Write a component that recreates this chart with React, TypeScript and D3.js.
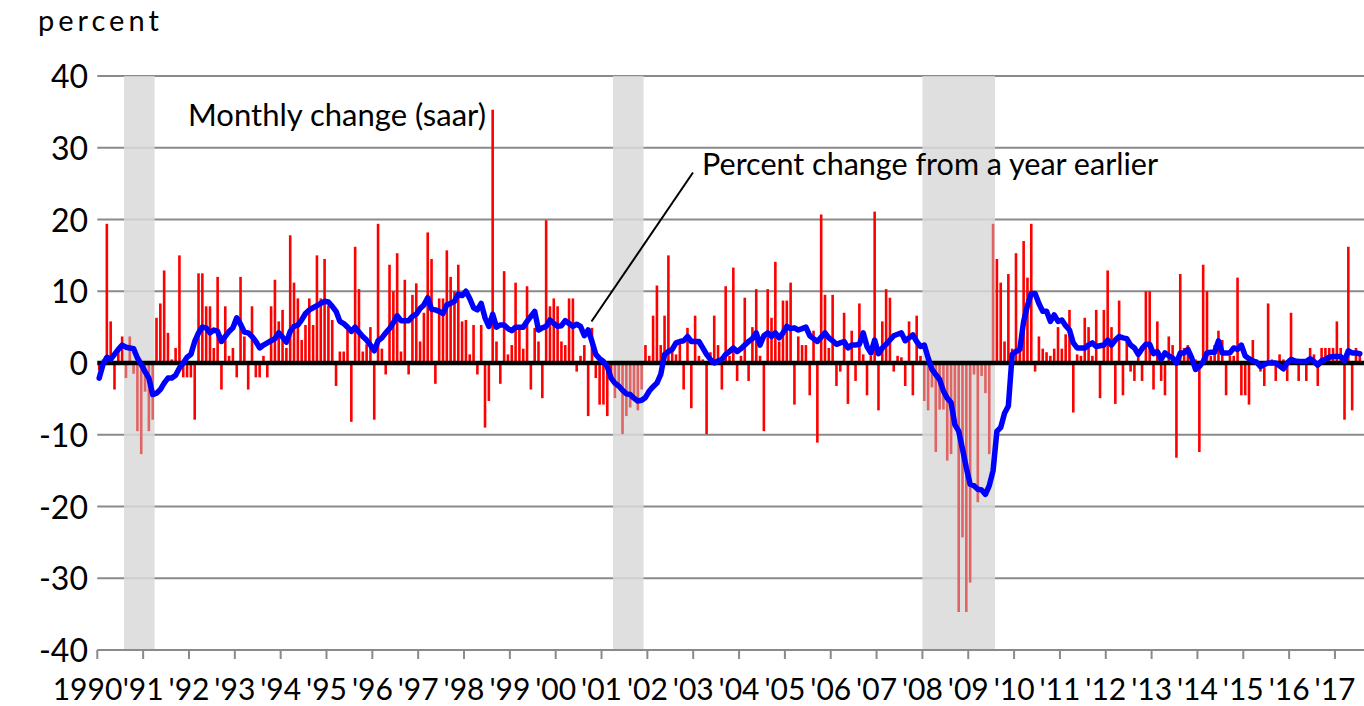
import React from 'react';
import * as d3 from 'd3';

// monthly change, saar (Jan 1990 - Jul 2017), one row per year
const monthlyChange = [
  -1, 0.5, 19.4, 5.8, -3.7, 2.1, 3.7, -2.1, 3.7, -1.5, -9.5, -12.7, // 1990
  -4, -9.5, -7.9, 6.3, 8.3, 12.9, 4.2, 0.5, 2.1, 15, -2, -2, // 1991
  -2, -7.9, 12.5, 12.5, 7.9, 7.9, 2.1, 12, -3.7, 7.9, 1, 2.1, // 1992
  -2, 12, 3.7, -3.7, 7.9, -2, -2, 1, -2, 7.9, 11.6, 5.8, // 1993
  7.4, 2.1, 17.8, 11.2, 9, 3.2, 5.3, 9, 5.3, 15, 9, 14.5, // 1994
  8, 6, -3.2, 1.6, 1.6, 5.3, -8.2, 16.2, 10.3, 1.6, 2.6, 5.0, // 1995
  -7.9, 19.4, 2, -1.6, 13.7, 10, 15.3, 1.6, 11.6, -1.6, 9.5, 11.1, // 1996
  3, 7, 18.2, 14.5, -2.9, 9, 9, 15.7, 12, 10, 13.7, 5.8, // 1997
  6, 1.2, 5.3, -1.6, 5.3, -9.0, -5.3, 35.3, 3, -2.9, 12.8, 1.2, // 1998
  2.5, 11.2, 4.9, 2, 10.7, -3.7, 4.9, 3, -4.9, 19.9, 7.9, 9, // 1999
  7.9, 3, 2.5, 9, 9, -1.2, 1, 2.5, -7.4, 4.9, -2.1, -5.8, // 2000
  -5.8, -7.4, -2, -4.9, -3, -9.9, -7.4, -6.2, -4.9, -6.6, -3.7, 2.5, // 2001
  1, 6.6, 10.8, 2.5, 6.6, 15, 2, 1.2, 3, -3.7, 4.9, -6.3, // 2002
  6.6, 1, 0.5, -9.9, 1.5, 6.6, 2.5, -3.7, 10.7, 1, 13.3, -2.5, // 2003
  1, 9.1, -2.5, 5, 10.3, 1, -9.5, 10.3, 6.3, 14.1, 3, 8.7, // 2004
  8.7, 11.2, -5.8, 3.7, 2.5, 2.5, -4.5, 4.5, -11.1, 20.7, 9.5, 2.1, // 2005
  9.5, -3.2, -1.2, 7.0, -5.7, 4.5, -2.5, 8.3, 1.2, -4.5, 1, 21.1, // 2006
  -6.6, 5.8, 10.3, 9.1, -1.2, 1, 0.8, -3.2, 5.8, -4.5, 6.6, 1, // 2007
  -5.3, -6.6, -3.4, -12.4, -6.5, -6.5, -13.6, -12.7, -9, -34.7, -24.3, -34.7, // 2008
  -30.6, -1.6, -19.4, -1.8, -4.2, -12.7, 19.4, 14.5, 11.2, 3, 12.4, 2, // 2009
  15.3, 2.5, 17, 11.9, 19.4, -1.2, 3.7, 2, 1.5, 1, 2, 5, // 2010
  2, 4, 7.4, -6.9, 1.2, 1, 6.3, 5.0, 1, 7.4, -4.9, 7.4, // 2011
  12.9, 5, -5.7, 8.7, -4.5, 3.7, -1.2, -2.5, 1, -2.5, 10, 10, // 2012
  -3.7, 5.8, -2.5, -4.5, 3.7, 2.5, -13.2, 12.4, 2.1, 2.5, 1, 0.5, // 2013
  -12.4, 13.7, 10, 1, 2.5, 4.5, 3.2, -4.5, 1, 1, 11.9, -4.5, // 2014
  -4.5, -5.8, 3.2, 0.5, -1.2, -3.2, 8.3, 0.5, -2.5, 1.2, 0.5, -2.5, // 2015
  7.0, 0.5, -2.5, 0.5, -2.5, 2.1, 1.2, -3.2, 2.1, 2.1, 2.1, 2.1, // 2016
  5.8, 2.1, -7.9, 16.2, -6.6, 2.1, 1, // 2017
];

// percent change from a year earlier
const yearlyChange = [
  -2.1, -0.2, 0.8, 0.5, 1.2, 1.9, 2.5, 2.2, 2.1, 2.0, 0.7, -0.2, // 1990
  -1.2, -2.1, -4.4, -4.2, -3.7, -2.8, -2.1, -2.1, -1.7, -0.7, 0, 0.8, // 1991
  1.2, 3.0, 4.2, 5.0, 4.9, 4.2, 4.6, 4.4, 3.0, 3.7, 4.4, 4.9, // 1992
  6.3, 5.4, 4.3, 4.2, 3.7, 3.0, 2.1, 2.5, 2.8, 3.1, 3.4, 4.2, // 1993
  3.6, 2.9, 4.4, 5.1, 5.3, 6.0, 6.9, 7.4, 7.7, 8.0, 8.3, 8.6, // 1994
  8.5, 7.9, 7.2, 5.8, 5.5, 5.0, 4.4, 5.0, 4.3, 3.7, 3.2, 2.5, // 1995
  1.7, 3.1, 3.5, 4.2, 4.8, 5.6, 6.6, 5.9, 5.9, 5.9, 6.5, 6.8, // 1996
  7.6, 8.1, 9.1, 7.5, 7.4, 7.2, 6.9, 8.1, 8.3, 8.6, 9.6, 9.4, // 1997
  10.0, 9.0, 7.7, 7.4, 8.3, 6.3, 5.1, 6.8, 5.0, 5.3, 5.3, 4.8, // 1998
  4.5, 5.0, 5.0, 5.0, 5.8, 6.5, 7.2, 4.6, 4.9, 5.1, 6.0, 5.5, // 1999
  5.1, 5.2, 5.9, 5.5, 5.1, 5.4, 5.1, 3.8, 4.6, 3.0, 1.2, 0.6, // 2000
  0.2, -0.5, -2.1, -2.8, -3.2, -3.8, -4.3, -4.4, -4.9, -5.3, -5.2, -4.8, // 2001
  -3.9, -3.3, -2.8, -1.6, 1.2, 1.6, 1.9, 2.8, 3.0, 3.1, 3.7, 3.0, // 2002
  3.0, 3.0, 2.1, 1.2, 0.5, 0, 0.3, 0.5, 1.2, 1.6, 2.1, 1.6, // 2003
  2.0, 2.5, 3.0, 3.4, 4.2, 2.5, 3.8, 4.2, 3.7, 4.2, 3.5, 4.2, // 2004
  5.1, 4.8, 4.9, 4.6, 4.8, 5.0, 3.8, 3.4, 3.0, 3.6, 4.2, 3.5, // 2005
  3.1, 2.6, 2.8, 3.0, 2.1, 2.5, 2.5, 2.6, 4.2, 2.3, 1.4, 3.2, // 2006
  1.3, 2.1, 2.6, 3.2, 3.8, 4.0, 4.2, 3.1, 3.5, 3.9, 3.0, 2.3, // 2007
  2.5, 0.7, -0.9, -1.6, -2.3, -3.9, -4.9, -5.5, -8.6, -9.5, -12.0, -14.6, // 2008
  -16.9, -17.1, -17.6, -17.7, -18.3, -17.1, -15.0, -9.5, -9.0, -7.0, -6.0, 1.2, // 2009
  1.6, 1.9, 5.8, 8.0, 9.7, 9.7, 8.3, 7.2, 7.2, 5.8, 6.7, 5.8, // 2010
  6.0, 5.2, 4.6, 2.8, 2.1, 2.1, 2.1, 2.5, 2.8, 2.3, 2.4, 2.5, // 2011
  3.2, 2.5, 3.2, 3.7, 3.5, 3.4, 2.5, 2.1, 1.2, 2.0, 2.6, 2.6, // 2012
  1.3, 1.6, 0.5, 1.4, 1.0, 0.7, 0, 1.4, 1.4, 1.9, 0.7, -0.9, // 2013
  -0.5, 0.2, 1.4, 1.5, 1.5, 3.1, 1.4, 1.4, 1.4, 2.1, 1.9, 2.5, // 2014
  1.0, 0.6, 0.3, 0.1, -0.5, -0.2, 0, 0, 0, -0.4, -0.8, 0, // 2015
  0.5, 0.3, 0.2, 0.2, 0.2, 0.6, 0.2, -0.3, 0.3, 0.5, 0.8, 0.9, // 2016
  0.9, 0.9, 0.3, 1.7, 1.4, 1.4, 1.3, // 2017
];

const yearLabels = [
  '1990', "'91", "'92", "'93", "'94", "'95", "'96", "'97", "'98", "'99",
  "'00", "'01", "'02", "'03", "'04", "'05", "'06", "'07", "'08", "'09",
  "'10", "'11", "'12", "'13", "'14", "'15", "'16", "'17",
];

const yTicks = [-40, -30, -20, -10, 0, 10, 20, 30, 40];

// recessions as [first month, last month] (month index from Jan 1990)
const recessions = [
  [7, 14],
  [135, 142],
  [216, 234],
];

const FONT = 'Lato, "Open Sans", sans-serif';

export default function App() {
  const width = 1364;
  const height = 706;
  const left = 97.3;
  const right = 1364;

  const x = d3.scaleLinear().domain([0, 331]).range([left, 1361.7]);
  const y = d3.scaleLinear().domain([-40, 40]).range([650, 76]);
  const barW = 2.6;

  const inRecession = (i: number) => recessions.some(([a, b]) => i >= a && i <= b);

  const line = d3
    .line<number>()
    .x((_, i) => x(i + 0.5))
    .y((d) => y(d));

  return (
    <svg
      width={width}
      height={height}
      style={{ position: 'absolute', left: 0, top: 0, background: '#fff' }}
      fontFamily={FONT}
    >
      {/* grid */}
      {yTicks
        .filter((t) => t !== 0 && t !== -40)
        .map((t) => (
          <line key={t} x1={left} x2={right} y1={y(t)} y2={y(t)} stroke="#8a8a8a" strokeWidth={2} />
        ))}

      {/* recession shading */}
      {recessions.map(([a, b]) => (
        <rect key={a} x={x(a)} width={x(b + 1) - x(a)} y={y(40)} height={y(-40) - y(40)} fill="#d9d9d9" opacity={0.85} />
      ))}

      {/* monthly bars */}
      {monthlyChange.map((v, i) => (
        <rect
          key={i}
          x={x(i + 0.5) - barW / 2}
          width={barW}
          y={v >= 0 ? y(v) : y(0)}
          height={Math.abs(y(v) - y(0))}
          fill={inRecession(i) ? '#e06464' : '#ff0000'}
        />
      ))}

      {/* x axis */}
      <line x1={left} x2={right} y1={y(-40)} y2={y(-40)} stroke="#8a8a8a" strokeWidth={2} />
      {yearLabels.map((lab, k) => (
        <g key={lab} transform={`translate(${x(k * 12)},0)`}>
          <line y1={y(-40)} y2={y(-40) + 9} stroke="#8a8a8a" strokeWidth={2} />
          <text
            x={k === 0 ? 25 : 0}
            y={700}
            textAnchor={k === 0 ? 'end' : 'middle'}
            fontSize={30}
            fill="#000"
          >
            {lab}
          </text>
        </g>
      ))}

      {/* zero line */}
      <line x1={left} x2={right} y1={y(0)} y2={y(0)} stroke="#000" strokeWidth={4.5} />

      {/* year-over-year line */}
      <path d={line(yearlyChange) || ''} fill="none" stroke="#0000ff" strokeWidth={5.5} strokeLinejoin="round" strokeLinecap="round" />

      {/* y tick labels */}
      {yTicks.map((t) => (
        <text key={t} x={88} y={y(t) + 12} textAnchor="end" fontSize={32} fill="#000">
          {t}
        </text>
      ))}

      <text x={38} y={31} fontSize={29} letterSpacing={4} fill="#000">
        percent
      </text>

      <text x={188} y={126} fontSize={30} fill="#000" textLength={298} lengthAdjust="spacingAndGlyphs">
        Monthly change (saar)
      </text>

      <text x={702} y={175} fontSize={30} fill="#000" textLength={456} lengthAdjust="spacingAndGlyphs">
        Percent change from a year earlier
      </text>
      <line x1={693} y1={172.5} x2={591.5} y2={321.5} stroke="#000" strokeWidth={2} />
    </svg>
  );
}
